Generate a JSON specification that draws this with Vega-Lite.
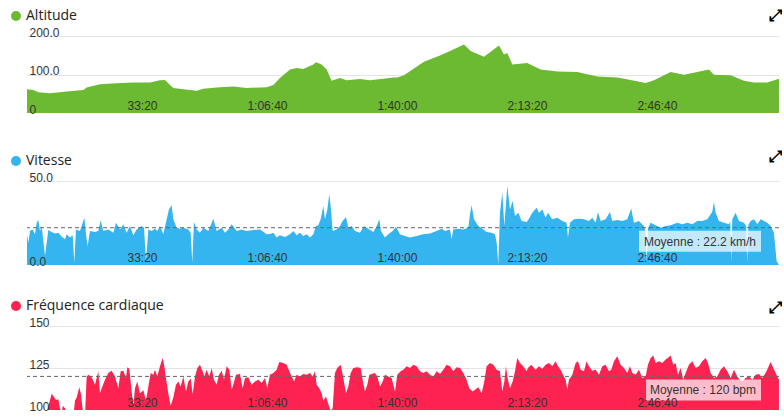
{
  "$schema": "https://vega.github.io/schema/vega-lite/v6.json",
  "background": "white",
  "padding": {"left": 9, "top": 8, "right": 0, "bottom": 0},
  "bounds": "flush",
  "spacing": 61,
  "config": {
    "view": {"stroke": null},
    "font": "Liberation Sans"
  },
  "resolve": {"scale": {"color": "independent"}},
  "datasets": {
    "alt": [
      {"t":0,"v":62},{"t":97,"v":60},{"t":174,"v":54},{"t":354,"v":51.5},{"t":610,"v":56},{"t":867,"v":60},{"t":918,"v":66},{"t":1123,"v":75},{"t":1380,"v":77},{"t":1636,"v":79},{"t":1892,"v":79.5},{"t":2046,"v":85},{"t":2123,"v":86},{"t":2200,"v":73},{"t":2251,"v":65},{"t":2405,"v":62},{"t":2610,"v":58},{"t":2713,"v":63},{"t":2918,"v":66},{"t":3174,"v":69},{"t":3380,"v":65},{"t":3687,"v":67},{"t":3790,"v":73},{"t":3892,"v":91},{"t":4046,"v":113},{"t":4149,"v":117},{"t":4251,"v":114},{"t":4405,"v":126},{"t":4446,"v":132},{"t":4533,"v":126},{"t":4610,"v":113},{"t":4687,"v":84},{"t":4815,"v":91},{"t":4918,"v":85},{"t":5123,"v":88},{"t":5277,"v":85},{"t":5482,"v":89},{"t":5636,"v":92},{"t":5697,"v":92.5},{"t":5800,"v":98},{"t":6108,"v":133},{"t":6364,"v":150},{"t":6518,"v":162},{"t":6723,"v":178},{"t":6826,"v":161},{"t":7031,"v":146},{"t":7262,"v":175.5},{"t":7338,"v":152},{"t":7390,"v":156},{"t":7467,"v":126},{"t":7697,"v":130},{"t":7903,"v":113},{"t":8159,"v":108},{"t":8467,"v":106.5},{"t":8774,"v":95},{"t":9082,"v":92.5},{"t":9287,"v":86},{"t":9518,"v":78},{"t":9646,"v":85},{"t":9903,"v":106.5},{"t":10108,"v":99.5},{"t":10313,"v":106.5},{"t":10492,"v":113},{"t":10569,"v":99.5},{"t":10826,"v":98},{"t":11031,"v":84},{"t":11185,"v":79},{"t":11390,"v":79.5},{"t":11569,"v":89}
    ],
    "speed": [
      {"t":0,"v":12},{"t":5,"v":18.3},{"t":21,"v":13.3},{"t":46,"v":20.2},{"t":87,"v":21.2},{"t":123,"v":18.3},{"t":149,"v":25.2},{"t":174,"v":26.8},{"t":200,"v":20.2},{"t":226,"v":23.2},{"t":251,"v":14.3},{"t":277,"v":5.4},{"t":303,"v":13.3},{"t":328,"v":20.8},{"t":379,"v":19.6},{"t":431,"v":18.8},{"t":482,"v":19.2},{"t":533,"v":16.9},{"t":585,"v":15.3},{"t":610,"v":18.3},{"t":662,"v":16.3},{"t":703,"v":17.7},{"t":728,"v":1.4},{"t":754,"v":21.2},{"t":815,"v":20.2},{"t":882,"v":28.2},{"t":908,"v":18.3},{"t":933,"v":11.3},{"t":969,"v":20.2},{"t":1046,"v":19.6},{"t":1097,"v":20.2},{"t":1133,"v":26.6},{"t":1174,"v":20.2},{"t":1251,"v":21.2},{"t":1328,"v":19.2},{"t":1369,"v":25.2},{"t":1431,"v":21.2},{"t":1482,"v":24.2},{"t":1533,"v":19.2},{"t":1584,"v":23.2},{"t":1636,"v":17.7},{"t":1687,"v":21.2},{"t":1764,"v":23.2},{"t":1800,"v":22.2},{"t":1831,"v":2.4},{"t":1867,"v":21.2},{"t":1918,"v":20.2},{"t":1969,"v":21.6},{"t":2005,"v":20.2},{"t":2046,"v":23.2},{"t":2097,"v":18.3},{"t":2149,"v":27.2},{"t":2184,"v":33.1},{"t":2226,"v":35.5},{"t":2251,"v":27.2},{"t":2302,"v":22.2},{"t":2354,"v":21.6},{"t":2405,"v":22.2},{"t":2482,"v":21.2},{"t":2518,"v":19.2},{"t":2543,"v":1.4},{"t":2569,"v":25.6},{"t":2610,"v":21.2},{"t":2661,"v":19.2},{"t":2713,"v":22.2},{"t":2790,"v":20.2},{"t":2867,"v":27.6},{"t":2918,"v":20.2},{"t":2995,"v":22.2},{"t":3046,"v":19.2},{"t":3097,"v":21.2},{"t":3149,"v":24.2},{"t":3226,"v":20.2},{"t":3302,"v":21.2},{"t":3379,"v":20.2},{"t":3482,"v":20.8},{"t":3585,"v":21.2},{"t":3687,"v":18.3},{"t":3738,"v":18.5},
      {"t":3790,"v":19.2},{"t":3841,"v":16.3},{"t":3892,"v":17.7},{"t":3969,"v":16.7},{"t":4046,"v":18.3},{"t":4097,"v":20.2},{"t":4149,"v":17.7},{"t":4200,"v":19.2},{"t":4251,"v":17.3},{"t":4303,"v":18.3},{"t":4354,"v":16.3},{"t":4405,"v":18.3},{"t":4446,"v":23.2},{"t":4482,"v":23.6},{"t":4518,"v":27.2},{"t":4559,"v":35.1},{"t":4585,"v":27.2},{"t":4621,"v":33.1},{"t":4651,"v":42.1},{"t":4677,"v":33.1},{"t":4703,"v":20.2},{"t":4764,"v":21.2},{"t":4815,"v":23.2},{"t":4856,"v":26.2},{"t":4908,"v":28.6},{"t":4944,"v":22.2},{"t":4995,"v":23.2},{"t":5046,"v":20.2},{"t":5123,"v":19.2},{"t":5185,"v":23.2},{"t":5251,"v":21.6},{"t":5328,"v":19.6},{"t":5380,"v":23.2},{"t":5421,"v":27.2},{"t":5446,"v":20.2},{"t":5508,"v":16.3},{"t":5559,"v":18.3},{"t":5626,"v":20.2},{"t":5677,"v":22.8},{"t":5738,"v":18.3},{"t":5815,"v":17.3},{"t":5892,"v":16.3},{"t":5995,"v":17.3},{"t":6097,"v":18.3},{"t":6200,"v":18.8},{"t":6303,"v":20.2},{"t":6380,"v":21.6},{"t":6431,"v":20.2},{"t":6508,"v":21.2},{"t":6533,"v":15.3},{"t":6559,"v":21.2},{"t":6636,"v":21.6},{"t":6713,"v":21.2},{"t":6790,"v":22.2},{"t":6815,"v":30.2},{"t":6841,"v":35.5},{"t":6877,"v":27.2},{"t":6944,"v":23.2},{"t":7021,"v":21.2},{"t":7072,"v":19.6},{"t":7149,"v":19.2},{"t":7200,"v":18.3},{"t":7226,"v":13.3},{"t":7251,"v":0.4},{"t":7277,"v":31.1},{"t":7313,"v":43.1},{"t":7344,"v":23.2},{"t":7390,"v":47.0},{"t":7431,"v":33.1},{"t":7472,"v":38.1},{"t":7508,"v":29.2},{"t":7559,"v":31.1},{"t":7610,"v":26.2},{"t":7687,"v":25.6},
      {"t":7723,"v":27.6},{"t":7774,"v":31.1},{"t":7841,"v":34.1},{"t":7877,"v":31.1},{"t":7928,"v":33.1},{"t":7979,"v":28.2},{"t":8015,"v":31.1},{"t":8082,"v":27.2},{"t":8159,"v":28.2},{"t":8236,"v":26.2},{"t":8302,"v":25.2},{"t":8323,"v":16.3},{"t":8354,"v":25.2},{"t":8415,"v":27.2},{"t":8492,"v":27.6},{"t":8569,"v":27.2},{"t":8646,"v":26.2},{"t":8697,"v":28.2},{"t":8749,"v":25.2},{"t":8784,"v":31.5},{"t":8826,"v":26.2},{"t":8902,"v":27.2},{"t":8969,"v":31.5},{"t":9005,"v":26.2},{"t":9082,"v":26.8},{"t":9159,"v":26.2},{"t":9236,"v":27.2},{"t":9297,"v":33.7},{"t":9338,"v":25.2},{"t":9415,"v":26.2},{"t":9492,"v":23.2},{"t":9515,"v":20},{"t":9535,"v":2},{"t":9555,"v":22},{"t":9595,"v":25.2},{"t":9672,"v":23.6},{"t":9749,"v":22.2},{"t":9826,"v":23.2},{"t":9902,"v":23.6},{"t":10005,"v":25.2},{"t":10082,"v":24.2},{"t":10159,"v":25.2},{"t":10236,"v":24.2},{"t":10313,"v":26.2},{"t":10390,"v":26.2},{"t":10466,"v":27.2},{"t":10543,"v":31.5},{"t":10569,"v":37.5},{"t":10595,"v":31.1},{"t":10646,"v":26.2},{"t":10723,"v":25.2},{"t":10800,"v":24.2},{"t":10820,"v":26},{"t":10835,"v":2},{"t":10851,"v":27.2},{"t":10902,"v":31.1},{"t":10954,"v":26.2},{"t":11031,"v":25.2},{"t":11065,"v":23},{"t":11080,"v":2},{"t":11100,"v":24},{"t":11133,"v":26.2},{"t":11185,"v":27.2},{"t":11236,"v":24.2},{"t":11287,"v":27.2},{"t":11338,"v":26.2},{"t":11390,"v":25.2},{"t":11441,"v":23.2},{"t":11492,"v":19.2},{"t":11533,"v":2.4},{"t":11569,"v":0}
    ],
    "hr": [
      {"t":0,"v":95},{"t":303,"v":98},{"t":344,"v":104.5},{"t":379,"v":109.6},{"t":405,"v":108.4},{"t":446,"v":106},{"t":482,"v":106.4},{"t":508,"v":101},{"t":533,"v":97},{"t":549,"v":102.5},{"t":585,"v":101},{"t":610,"v":97},{"t":713,"v":96},{"t":738,"v":105.5},{"t":764,"v":107.4},{"t":805,"v":113.6},{"t":831,"v":109.4},{"t":856,"v":100.6},{"t":892,"v":96},{"t":918,"v":120},{"t":944,"v":121},{"t":995,"v":119.5},{"t":1046,"v":115},{"t":1097,"v":123},{"t":1123,"v":110},{"t":1149,"v":113},{"t":1200,"v":118},{"t":1251,"v":122},{"t":1302,"v":123.4},{"t":1354,"v":120},{"t":1405,"v":113},{"t":1441,"v":123},{"t":1482,"v":123.4},{"t":1523,"v":119},{"t":1543,"v":125.4},{"t":1574,"v":124.6},{"t":1610,"v":111},{"t":1636,"v":102.5},{"t":1661,"v":113},{"t":1697,"v":117},{"t":1738,"v":110},{"t":1790,"v":111.7},{"t":1831,"v":105.5},{"t":1867,"v":114},{"t":1903,"v":122},{"t":1944,"v":121},{"t":1969,"v":124},{"t":2005,"v":120},{"t":2046,"v":126},{"t":2087,"v":131},{"t":2113,"v":126},{"t":2138,"v":119},{"t":2174,"v":110},{"t":2210,"v":102.5},{"t":2251,"v":107.4},{"t":2292,"v":115},{"t":2328,"v":117},{"t":2364,"v":114},{"t":2405,"v":120},{"t":2446,"v":111},{"t":2482,"v":117},{"t":2518,"v":118.7},{"t":2549,"v":109.4},{"t":2585,"v":120},{"t":2621,"v":125},{"t":2661,"v":127},{"t":2702,"v":123},{"t":2728,"v":120},{"t":2764,"v":124},{"t":2805,"v":120},{"t":2841,"v":125},{"t":2877,"v":118},{"t":2918,"v":115},{"t":2954,"v":121},{"t":2995,"v":123.4},{"t":3031,"v":118},{"t":3072,"v":126},{"t":3113,"v":124},{"t":3149,"v":112},{"t":3174,"v":115},{"t":3215,"v":121},{"t":3277,"v":121.5},{"t":3318,"v":113},{"t":3354,"v":119},{"t":3405,"v":119.5},{"t":3456,"v":115},{"t":3508,"v":117},{"t":3559,"v":118},{"t":3610,"v":116},{"t":3662,"v":119},{"t":3697,"v":113},{"t":3738,"v":121},
      {"t":3790,"v":122},{"t":3841,"v":124},{"t":3882,"v":128.5},{"t":3944,"v":128},{"t":3995,"v":127},{"t":4036,"v":123},{"t":4072,"v":120},{"t":4108,"v":117},{"t":4149,"v":121},{"t":4200,"v":120},{"t":4251,"v":121.5},{"t":4303,"v":121},{"t":4354,"v":122},{"t":4395,"v":120},{"t":4431,"v":123},{"t":4456,"v":115},{"t":4497,"v":113},{"t":4533,"v":110},{"t":4559,"v":105.5},{"t":4600,"v":108},{"t":4636,"v":103.5},{"t":4672,"v":99.6},{"t":4703,"v":101},{"t":4738,"v":122},{"t":4774,"v":125},{"t":4826,"v":127},{"t":4867,"v":119},{"t":4908,"v":110},{"t":4944,"v":114},{"t":4980,"v":122},{"t":5021,"v":125},{"t":5082,"v":125.4},{"t":5133,"v":125},{"t":5164,"v":118},{"t":5200,"v":111},{"t":5236,"v":115},{"t":5267,"v":121},{"t":5303,"v":121.5},{"t":5354,"v":122},{"t":5390,"v":120},{"t":5431,"v":114},{"t":5472,"v":117},{"t":5508,"v":121},{"t":5559,"v":120},{"t":5610,"v":119},{"t":5662,"v":111},{"t":5697,"v":121},{"t":5749,"v":123},{"t":5790,"v":124},{"t":5841,"v":126},{"t":5892,"v":125},{"t":5944,"v":127},{"t":5995,"v":126},{"t":6046,"v":123},{"t":6097,"v":122},{"t":6149,"v":123},{"t":6200,"v":121},{"t":6251,"v":120},{"t":6303,"v":123},{"t":6354,"v":121.5},{"t":6405,"v":124},{"t":6456,"v":127},{"t":6508,"v":126},{"t":6559,"v":123},{"t":6610,"v":125.4},{"t":6662,"v":125},{"t":6713,"v":122},{"t":6764,"v":118},{"t":6805,"v":113},{"t":6856,"v":111},{"t":6892,"v":112},{"t":6944,"v":113.6},{"t":6995,"v":110},{"t":7031,"v":116},{"t":7072,"v":126},{"t":7123,"v":128},{"t":7174,"v":127},{"t":7226,"v":124},{"t":7277,"v":123},{"t":7313,"v":111},{"t":7344,"v":117},{"t":7369,"v":126},{"t":7395,"v":119},{"t":7431,"v":113},{"t":7472,"v":117},{"t":7508,"v":123},{"t":7544,"v":131},{"t":7585,"v":128},{"t":7636,"v":126},{"t":7687,"v":123},
      {"t":7708,"v":125},{"t":7759,"v":127},{"t":7826,"v":124},{"t":7877,"v":126},{"t":7928,"v":124.6},{"t":7979,"v":127},{"t":8031,"v":128},{"t":8082,"v":126},{"t":8133,"v":129},{"t":8169,"v":126},{"t":8210,"v":124},{"t":8261,"v":120},{"t":8287,"v":118},{"t":8313,"v":112},{"t":8338,"v":118},{"t":8390,"v":121},{"t":8441,"v":128},{"t":8477,"v":129},{"t":8518,"v":124},{"t":8569,"v":123},{"t":8610,"v":129},{"t":8646,"v":126},{"t":8697,"v":123.4},{"t":8749,"v":124},{"t":8800,"v":121},{"t":8851,"v":126},{"t":8902,"v":127},{"t":8954,"v":123},{"t":8990,"v":124},{"t":9031,"v":129},{"t":9082,"v":132},{"t":9133,"v":127},{"t":9184,"v":125},{"t":9236,"v":122},{"t":9277,"v":126},{"t":9313,"v":122},{"t":9364,"v":121},{"t":9415,"v":124},{"t":9467,"v":119},{"t":9518,"v":120},{"t":9554,"v":127},{"t":9595,"v":131},{"t":9636,"v":132.5},{"t":9672,"v":128},{"t":9723,"v":129},{"t":9774,"v":128},{"t":9826,"v":130},{"t":9861,"v":131},{"t":9902,"v":132.5},{"t":9943,"v":127},{"t":9979,"v":128},{"t":10015,"v":121},{"t":10056,"v":125},{"t":10097,"v":118},{"t":10133,"v":122},{"t":10184,"v":127},{"t":10236,"v":129},{"t":10287,"v":125},{"t":10338,"v":126},{"t":10390,"v":129},{"t":10441,"v":131},{"t":10477,"v":128},{"t":10518,"v":122},{"t":10569,"v":119},{"t":10620,"v":120},{"t":10672,"v":124},{"t":10723,"v":126},{"t":10774,"v":123},{"t":10826,"v":119},{"t":10877,"v":124},{"t":10928,"v":120},{"t":10969,"v":118},{"t":11005,"v":117},{"t":11056,"v":119},{"t":11108,"v":120},{"t":11159,"v":118},{"t":11210,"v":121},{"t":11262,"v":121.5},{"t":11313,"v":119},{"t":11364,"v":122},{"t":11400,"v":125},{"t":11441,"v":128.5},{"t":11482,"v":125},{"t":11518,"v":122},{"t":11544,"v":120},{"t":11569,"v":118}
    ],
    "speed_mean": [{"mean": 22.2, "label": "Moyenne : 22.2 km/h"}],
    "hr_mean": [{"mean": 120, "label": "Moyenne : 120 bpm"}]
  },
  "vconcat": [
    {
      "width": 752,
      "height": 77,
      "title": {"text": "⤢", "anchor": "end", "frame": "group", "orient": "top", "font": "DejaVu Sans", "fontSize": 16, "fontWeight": "bold", "color": "#000", "offset": -15, "dx": 3},
      "layer": [
        {
          "data": {"name": "alt"},
          "mark": {"type": "area", "opacity": 1, "clip": true},
          "encoding": {
            "x": {"field": "t", "type": "quantitative", "scale": {"domain": [0, 11570], "nice": false, "zero": false},
              "axis": {"orient": "bottom", "title": null, "values": [2000, 4000, 6000, 8000, 10000], "grid": false, "domain": false, "ticks": false, "tickSize": 0, "labelPadding": -4, "labelBaseline": "alphabetic", "labelAlign": "right", "labelFlush": false, "labelOverlap": false, "labelFont": "Liberation Sans", "labelFontSize": 12, "labelColor": "#333", "zindex": 1,
                "labelExpr": "datum.value < 3600 ? utcFormat(datum.value * 1000, '%M:%S') : utcFormat(datum.value * 1000, '%-H:%M:%S')"}},
            "y": {"field": "v", "type": "quantitative", "scale": {"domain": [0, 200], "nice": false},
              "axis": {"orient": "left", "title": null, "values": [100, 200], "grid": true, "gridColor": "#e4e4e4", "gridWidth": 1, "labels": false, "ticks": false, "domain": false}},
            "color": {"datum": "Altitude", "type": "nominal", "scale": {"range": ["#6cb932"]},
              "legend": {"orient": "none", "legendX": -18, "legendY": -27, "title": null, "symbolType": "circle", "symbolSize": 100, "symbolStrokeWidth": 0, "symbolOpacity": 1, "labelFont": "Open Sans", "labelFontSize": 14, "labelColor": "#222", "labelOffset": 3, "labelLimit": 300}}
          }
        },
        {
          "data": {"name": "alt"},
          "mark": {"type": "rule", "strokeOpacity": 0},
          "encoding": {
            "y": {"datum": 0, "type": "quantitative", "scale": {"domain": [0, 200], "nice": false},
              "axis": {"orient": "left", "title": null, "values": [0, 100, 200], "grid": false, "ticks": false, "tickSize": 0, "domain": false, "labelAlign": "left", "labelPadding": -2, "labelBaseline": "alphabetic", "labelDy": 1, "labelFlush": false, "labelOverlap": false, "labelBound": false, "labelFont": "Liberation Sans", "labelFontSize": 12, "labelColor": "#333", "zindex": 1,
                "labelExpr": "datum.value == 0 ? '0' : format(datum.value, '.1f')"}}
          }
        }
      ],
      "resolve": {"axis": {"y": "independent"}}
    },
    {
      "width": 752,
      "height": 91,
      "title": {"text": "⤢", "anchor": "end", "frame": "group", "orient": "top", "font": "DejaVu Sans", "fontSize": 16, "fontWeight": "bold", "color": "#000", "offset": -11, "dx": 3},
      "layer": [
        {
          "data": {"name": "speed"},
          "mark": {"type": "area", "opacity": 1, "clip": true},
          "encoding": {
            "x": {"field": "t", "type": "quantitative", "scale": {"domain": [0, 11570], "nice": false, "zero": false},
              "axis": {"orient": "bottom", "title": null, "values": [2000, 4000, 6000, 8000, 10000], "grid": false, "domain": false, "ticks": false, "tickSize": 0, "labelPadding": -4, "labelBaseline": "alphabetic", "labelAlign": "right", "labelFlush": false, "labelOverlap": false, "labelFont": "Liberation Sans", "labelFontSize": 12, "labelColor": "#333", "zindex": 1,
                "labelExpr": "datum.value < 3600 ? utcFormat(datum.value * 1000, '%M:%S') : utcFormat(datum.value * 1000, '%-H:%M:%S')"}},
            "y": {"field": "v", "type": "quantitative", "scale": {"domain": [0, 54.17], "nice": false},
              "axis": {"orient": "left", "title": null, "values": [50], "grid": true, "gridColor": "#e4e4e4", "gridWidth": 1, "labels": false, "ticks": false, "domain": false}},
            "color": {"datum": "Vitesse", "type": "nominal", "scale": {"range": ["#35b5ef"]},
              "legend": {"orient": "none", "legendX": -18, "legendY": -20, "title": null, "symbolType": "circle", "symbolSize": 100, "symbolStrokeWidth": 0, "symbolOpacity": 1, "labelFont": "Open Sans", "labelFontSize": 14, "labelColor": "#222", "labelOffset": 3, "labelLimit": 300}}
          }
        },
        {
          "data": {"name": "speed_mean"},
          "mark": {"type": "rule", "color": "#666", "strokeDash": [4, 3], "strokeWidth": 1},
          "encoding": {
            "y": {"field": "mean", "type": "quantitative", "scale": {"domain": [0, 54.17], "nice": false},
              "axis": {"orient": "left", "title": null, "values": [0, 50], "grid": false, "ticks": false, "tickSize": 0, "domain": false, "labelAlign": "left", "labelPadding": -2, "labelBaseline": "alphabetic", "labelDy": 1, "labelFlush": false, "labelOverlap": false, "labelBound": false, "labelFont": "Liberation Sans", "labelFontSize": 12, "labelColor": "#333", "zindex": 1,
                "labelExpr": "format(datum.value, '.1f')"}}
          }
        },
        {
          "data": {"name": "speed_mean"},
          "mark": {"type": "rect", "fill": "white", "opacity": 0.7, "xOffset": -140, "x2Offset": -18, "yOffset": 3, "y2Offset": 24},
          "encoding": {
            "x": {"value": "width"},
            "x2": {"value": "width"},
            "y": {"field": "mean", "type": "quantitative", "axis": null},
            "y2": {"field": "mean"}
          }
        },
        {
          "data": {"name": "speed_mean"},
          "mark": {"type": "text", "align": "right", "baseline": "middle", "dx": -23, "dy": 14, "font": "Liberation Sans", "fontSize": 12, "color": "#333"},
          "encoding": {
            "x": {"value": "width"},
            "y": {"field": "mean", "type": "quantitative", "axis": null},
            "text": {"field": "label"}
          }
        }
      ],
      "resolve": {"axis": {"y": "independent"}}
    },
    {
      "width": 752,
      "height": 84,
      "title": {"text": "⤢", "anchor": "end", "frame": "group", "orient": "top", "font": "DejaVu Sans", "fontSize": 16, "fontWeight": "bold", "color": "#000", "offset": -17, "dx": 3},
      "layer": [
        {
          "data": {"name": "hr"},
          "mark": {"type": "area", "opacity": 1, "clip": true},
          "encoding": {
            "x": {"field": "t", "type": "quantitative", "scale": {"domain": [0, 11570], "nice": false, "zero": false},
              "axis": {"orient": "bottom", "title": null, "values": [2000, 4000, 6000, 8000, 10000], "grid": false, "domain": false, "ticks": false, "tickSize": 0, "labelPadding": -4, "labelBaseline": "alphabetic", "labelAlign": "right", "labelFlush": false, "labelOverlap": false, "labelFont": "Liberation Sans", "labelFontSize": 12, "labelColor": "#333", "zindex": 1,
                "labelExpr": "datum.value < 3600 ? utcFormat(datum.value * 1000, '%M:%S') : utcFormat(datum.value * 1000, '%-H:%M:%S')"}},
            "y": {"field": "v", "type": "quantitative", "scale": {"domain": [100, 150], "nice": false, "zero": false},
              "axis": {"orient": "left", "title": null, "values": [125, 150], "grid": true, "gridColor": "#e4e4e4", "gridWidth": 1, "labels": false, "ticks": false, "domain": false}},
            "color": {"datum": "Fréquence cardiaque", "type": "nominal", "scale": {"range": ["#fe2250"]},
              "legend": {"orient": "none", "legendX": -18, "legendY": -27, "title": null, "symbolType": "circle", "symbolSize": 100, "symbolStrokeWidth": 0, "symbolOpacity": 1, "labelFont": "Open Sans", "labelFontSize": 14, "labelColor": "#222", "labelOffset": 3, "labelLimit": 300}}
          }
        },
        {
          "data": {"name": "hr_mean"},
          "mark": {"type": "rule", "color": "#666", "strokeDash": [4, 3], "strokeWidth": 1},
          "encoding": {
            "y": {"field": "mean", "type": "quantitative", "scale": {"domain": [100, 150], "nice": false, "zero": false},
              "axis": {"orient": "left", "title": null, "values": [100, 125, 150], "grid": false, "ticks": false, "tickSize": 0, "domain": false, "labelAlign": "left", "labelPadding": -2, "labelBaseline": "alphabetic", "labelDy": 1, "labelFlush": false, "labelOverlap": false, "labelBound": false, "labelFont": "Liberation Sans", "labelFontSize": 12, "labelColor": "#333", "zindex": 1,
                "labelExpr": "format(datum.value, 'd')"}}
          }
        },
        {
          "data": {"name": "hr_mean"},
          "mark": {"type": "rect", "fill": "white", "opacity": 0.7, "xOffset": -133, "x2Offset": -18, "yOffset": 3, "y2Offset": 24},
          "encoding": {
            "x": {"value": "width"},
            "x2": {"value": "width"},
            "y": {"field": "mean", "type": "quantitative", "axis": null},
            "y2": {"field": "mean"}
          }
        },
        {
          "data": {"name": "hr_mean"},
          "mark": {"type": "text", "align": "right", "baseline": "middle", "dx": -23, "dy": 14, "font": "Liberation Sans", "fontSize": 12, "color": "#333"},
          "encoding": {
            "x": {"value": "width"},
            "y": {"field": "mean", "type": "quantitative", "axis": null},
            "text": {"field": "label"}
          }
        }
      ],
      "resolve": {"axis": {"y": "independent"}}
    }
  ]
}
